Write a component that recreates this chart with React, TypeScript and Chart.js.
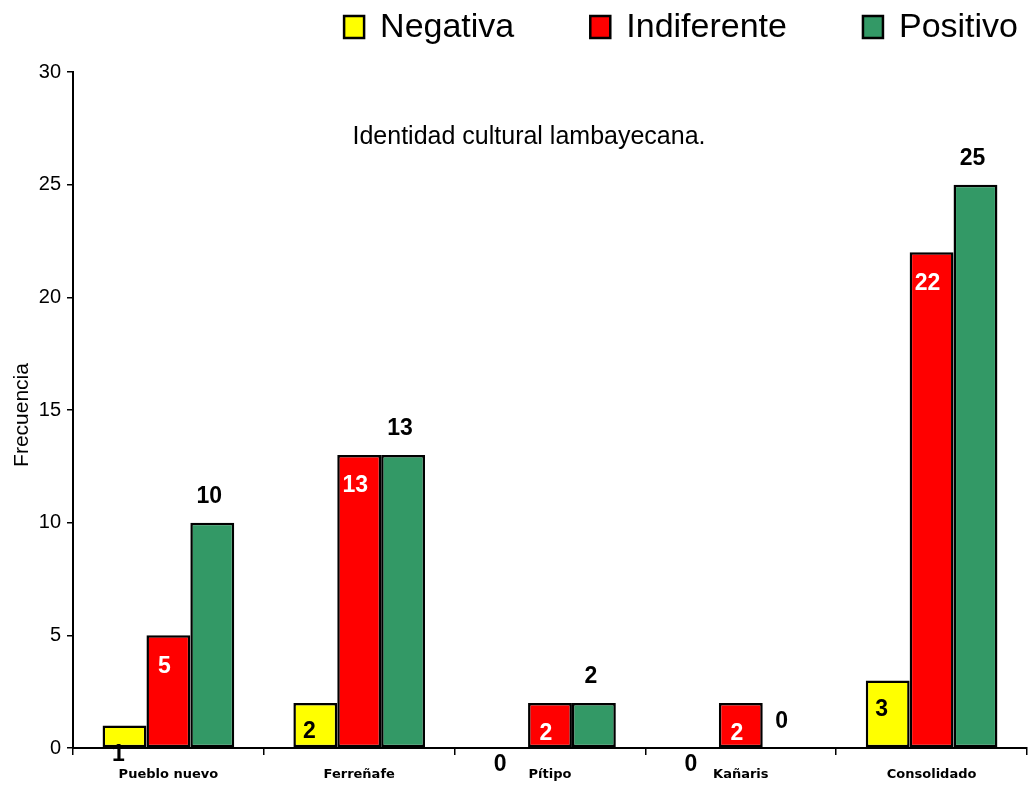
import React, { useEffect, useRef } from "react";
import { Chart, registerables } from "chart.js";

Chart.register(...registerables);

const categories = ["Pueblo nuevo", "Ferreñafe", "Pítipo", "Kañaris", "Consolidado"];
const negativa = [1, 2, 0, 0, 3];
const indiferente = [5, 13, 2, 2, 22];
const positivo = [10, 13, 2, 0, 25];
const seriesNames = ["Negativa", "Indiferente", "Positivo"];
const seriesColors = ["#FFFF00", "#FF0000", "#339966"];
const yTicks = [0, 5, 10, 15, 20, 25, 30];
const chartTitle = "Identidad cultural lambayecana.";
const yTitle = "Frecuencia";

const FONT = "'Liberation Sans', Arial, sans-serif";

const decorPlugin = {
  id: "decor",
  afterDatasetsDraw(chart: any) {
    const ctx = chart.ctx;
    const area = chart.chartArea;
    ctx.save();
    // data labels
    ctx.font = `bold 23px ${FONT}`;
    ctx.textAlign = "center";
    ctx.textBaseline = "middle";
    chart.data.datasets.forEach((ds: any, di: number) => {
      const meta = chart.getDatasetMeta(di);
      meta.data.forEach((el: any, i: number) => {
        const v = ds.data[i];
        const { x, y, base } = el.getProps(["x", "y", "base"], true);
        let lx = x, ly = y;
        if (di === 0) {
          ctx.fillStyle = "#000";
          lx = x - 6;
          ly = Math.min(y + 29, base + 17);
        } else if (di === 1) {
          ctx.fillStyle = "#fff";
          lx = x - 4;
          ly = y + 31;
        } else {
          ctx.fillStyle = "#000";
          lx = x - 3;
          ly = y - 26;
        }
        ctx.fillText(String(v), lx, ly);
      });
    });
    // title inside plot
    ctx.fillStyle = "#000";
    ctx.font = `25px ${FONT}`;
    ctx.fillText(chartTitle, area.left + (area.right - area.left) * 0.478, area.top + 65);
    // y axis title
    ctx.save();
    ctx.translate(22, (area.top + area.bottom) / 2 + 5);
    ctx.rotate(-Math.PI / 2);
    ctx.font = `21px ${FONT}`;
    ctx.fillText(yTitle, 0, 0);
    ctx.restore();
    // legend
    ctx.font = `34px ${FONT}`;
    ctx.textAlign = "left";
    const boxW = 20, boxH = 22, boxGap = 16, itemGap = 76;
    const widths = seriesNames.map((n) => ctx.measureText(n).width);
    let total = 0;
    widths.forEach((w, i) => {
      total += boxW + boxGap + w + (i < widths.length - 1 ? itemGap : 0);
    });
    let cx = chart.width - 11 - total;
    const cy = 27;
    seriesNames.forEach((n, i) => {
      ctx.fillStyle = seriesColors[i];
      ctx.fillRect(cx, cy - boxH / 2, boxW, boxH);
      ctx.strokeStyle = "#000";
      ctx.lineWidth = 2.5;
      ctx.strokeRect(cx, cy - boxH / 2, boxW, boxH);
      ctx.fillStyle = "#000";
      ctx.fillText(n, cx + boxW + boxGap, cy + 1);
      cx += boxW + boxGap + widths[i] + itemGap;
    });
    ctx.restore();
  },
};

export default function App() {
  const ref = useRef<HTMLCanvasElement>(null);
  useEffect(() => {
    if (!ref.current) return;
    const seriesData = [negativa, indiferente, positivo];
    const chart = new Chart(ref.current, {
      type: "bar",
      data: {
        labels: categories,
        datasets: seriesData.map((d, i) => ({
          label: seriesNames[i],
          data: d,
          backgroundColor: seriesColors[i],
          borderColor: "#000",
          borderWidth: (c: any) => (c.raw === 0 ? 0 : 2.5),
          borderSkipped: false,
          categoryPercentage: 0.69,
          barPercentage: 1,
        })),
      },
      options: {
        animation: false,
        responsive: false,
        maintainAspectRatio: false,
        layout: { padding: { top: 72, right: 2, left: 0, bottom: 0 } },
        plugins: { legend: { display: false }, title: { display: false }, tooltip: { enabled: false } },
        scales: {
          x: {
            grid: { display: true, drawOnChartArea: false, offset: true, tickLength: 7, color: "#000", lineWidth: 1.5 },
            border: { display: true, color: "#000", width: 2 },
            ticks: { color: "#000", font: { family: "'DejaVu Sans', Verdana, sans-serif", size: 13, weight: "bold" }, padding: 12, maxRotation: 0 },
            afterFit: (s: any) => { s.height = 39; },
          },
          y: {
            min: 0,
            max: 30,
            afterBuildTicks: (s: any) => { s.ticks = yTicks.map((v) => ({ value: v })); },
            grid: { display: true, drawOnChartArea: false, tickLength: 6, color: "#000", lineWidth: 1.5 },
            border: { display: true, color: "#000", width: 2 },
            ticks: { color: "#000", font: { family: FONT, size: 20 }, padding: 6 },
            afterFit: (s: any) => { s.width = 73; },
          },
        },
      },
      plugins: [decorPlugin],
    });
    return () => chart.destroy();
  }, []);
  return (
    <div style={{ position: "fixed", left: 0, top: 0, width: 1029, height: 787, background: "#fff" }}>
      <canvas ref={ref} width={1029} height={787} style={{ width: 1029, height: 787 }} />
    </div>
  );
}
